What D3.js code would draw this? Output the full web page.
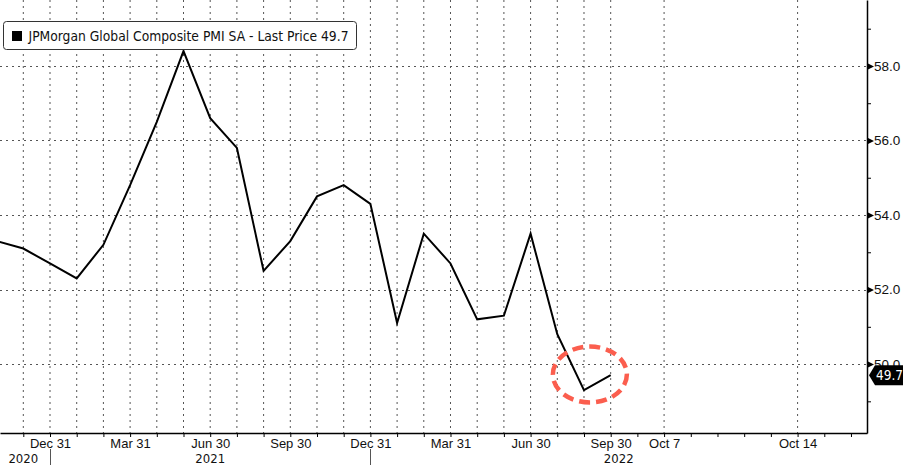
<script src="https://d3js.org/d3.v7.min.js"></script>
<style>
  body { margin: 0; background: #fff; }
  svg { display: block; font-family: "DejaVu Sans Condensed", "DejaVu Sans", sans-serif; }
</style>
<body>
<svg width="903" height="465"></svg>
<script>
// monthly values, Oct 2020 .. Sep 2022 (month index -1 .. 22, 0 = Nov 30 2020)
const months = ["Oct 2020", "Nov 2020", "Dec 2020", "Jan 2021", "Feb 2021", "Mar 2021", "Apr 2021",
  "May 2021", "Jun 2021", "Jul 2021", "Aug 2021", "Sep 2021", "Oct 2021", "Nov 2021", "Dec 2021",
  "Jan 2022", "Feb 2022", "Mar 2022", "Apr 2022", "May 2022", "Jun 2022", "Jul 2022", "Aug 2022", "Sep 2022"];
const pmi = [53.3, 53.1, 52.7, 52.3, 53.2, 54.8, 56.5, 58.4, 56.6, 55.8, 52.5, 53.3, 54.5, 54.8, 54.3,
  51.1, 53.5, 52.7, 51.2, 51.3, 53.5, 50.8, 49.3, 49.7];

const tickLabels = ["Dec 31", "Mar 31", "Jun 30", "Sep 30", "Dec 31", "Mar 31", "Jun 30", "Sep 30", "Oct 7", "Oct 14"];
const tickPos = [1, 4, 7, 10, 13, 16, 19, 22, 24, 29];
const yearLabels = ["2020", "2021", "2022"];
const yearPos = [0, 7, 22.3];
const yearBreaks = [1, 13];
const yTicks = [49, 50, 51, 52, 53, 54, 55, 56, 57, 58, 59];
const lastPrice = 49.7;

const W = 867, H = 433;
const x = d3.scaleLinear().domain([-0.873, 31.6]).range([0, W]);
const y = d3.scaleLinear().domain([48.15, 59.77]).range([H, 0]);

const svg = d3.select("svg");
svg.append("defs").append("clipPath").attr("id", "plot")
  .append("rect").attr("width", W).attr("height", H);

// grid
const gridX = d3.range(0, 23).concat([24, 29]);
svg.append("g").selectAll("line").data(gridX).join("line")
  .attr("x1", d => x(d)).attr("x2", d => x(d)).attr("y1", 0).attr("y2", H)
  .attr("stroke", "#555").attr("stroke-width", 1).attr("stroke-dasharray", "2,4");
svg.append("g").selectAll("line").data(yTicks.filter(d => d % 2 === 0)).join("line")
  .attr("x1", 0).attr("x2", W).attr("y1", d => Math.round(y(d)) + 0.5).attr("y2", d => Math.round(y(d)) + 0.5)
  .attr("stroke", "#555").attr("stroke-width", 1).attr("stroke-dasharray", "2,4");

// line
svg.append("path")
  .datum(pmi)
  .attr("clip-path", "url(#plot)")
  .attr("fill", "none").attr("stroke", "#000").attr("stroke-width", 2)
  .attr("stroke-linejoin", "miter")
  .attr("d", d3.line().x((d, i) => x(i - 1)).y(d => y(d)));

// bottom axis
const bx = svg.append("g").attr("transform", `translate(0,${H})`)
  .call(d3.axisBottom(x).tickValues(d3.range(0, 32)).tickSize(4).tickSizeOuter(0).tickFormat(""));
bx.select(".domain").attr("stroke", "#000").attr("stroke-width", 1.5);
bx.selectAll(".tick line").attr("stroke", "#000");

const bl = svg.append("g").attr("transform", `translate(0,${H})`)
  .call(d3.axisBottom(x).tickValues(tickPos).tickSize(0).tickFormat((d, i) => tickLabels[i]));
bl.select(".domain").remove();
bl.selectAll("text").attr("dy", 0).attr("y", 15).attr("font-size", 13)
  .attr("font-family", null).attr("fill", "#111");

svg.append("g").selectAll("text").data(yearLabels).join("text")
  .attr("x", (d, i) => x(yearPos[i])).attr("y", 463)
  .attr("text-anchor", "middle").attr("font-size", 13).attr("fill", "#111")
  .text(d => d);
svg.append("g").selectAll("line").data(yearBreaks).join("line")
  .attr("x1", d => Math.round(x(d)) + 0.5).attr("x2", d => Math.round(x(d)) + 0.5)
  .attr("y1", 449).attr("y2", 465).attr("stroke", "#555");

// right axis
const ry = svg.append("g").attr("transform", `translate(${W},0)`)
  .call(d3.axisRight(y).tickValues(yTicks).tickSize(4).tickSizeOuter(0)
    .tickFormat(d => d % 2 === 0 ? d3.format(".1f")(d) : ""));
ry.select(".domain").attr("stroke", "#000").attr("stroke-width", 1.5);
ry.selectAll(".tick line").attr("stroke", "#000").attr("display", d => d % 2 === 0 ? "none" : null);
ry.selectAll(".tick").filter(d => d % 2 === 0).append("path")
  .attr("d", "M0,-3.5L7,0L0,3.5Z").attr("fill", "#000");
ry.selectAll("text").attr("x", 7).attr("font-size", 13.5).attr("font-family", null).attr("fill", "#111");

// last price tag
const ly = y(lastPrice);
const tag = svg.append("g").attr("transform", `translate(${W + 2},${ly})`);
tag.append("path").attr("d", "M0,0L6,-10H40V10H6Z").attr("fill", "#000");
tag.append("text").attr("x", 7).attr("y", 5).attr("font-size", 13.5).attr("fill", "#fff").text(lastPrice.toFixed(1));

// annotation ring
svg.append("ellipse")
  .attr("cx", x(21.22)).attr("cy", y(49.72)).attr("rx", 37).attr("ry", 28)
  .attr("fill", "none").attr("stroke", "#fb5e4e").attr("stroke-width", 4.5)
  .attr("stroke-dasharray", "11,6");

// legend
const lg = svg.append("g").attr("transform", "translate(3.5,21.5)");
lg.append("rect").attr("width", 353).attr("height", 28).attr("rx", 3)
  .attr("fill", "#fff").attr("stroke", "#333");
lg.append("rect").attr("x", 8.5).attr("y", 9.5).attr("width", 10).attr("height", 10).attr("fill", "#000");
lg.append("text").attr("x", 25).attr("y", 19).attr("font-size", 14).attr("fill", "#111")
  .attr("textLength", 320).attr("lengthAdjust", "spacingAndGlyphs")
  .text("JPMorgan Global Composite PMI SA - Last Price " + lastPrice.toFixed(1));
</script>
</body>
